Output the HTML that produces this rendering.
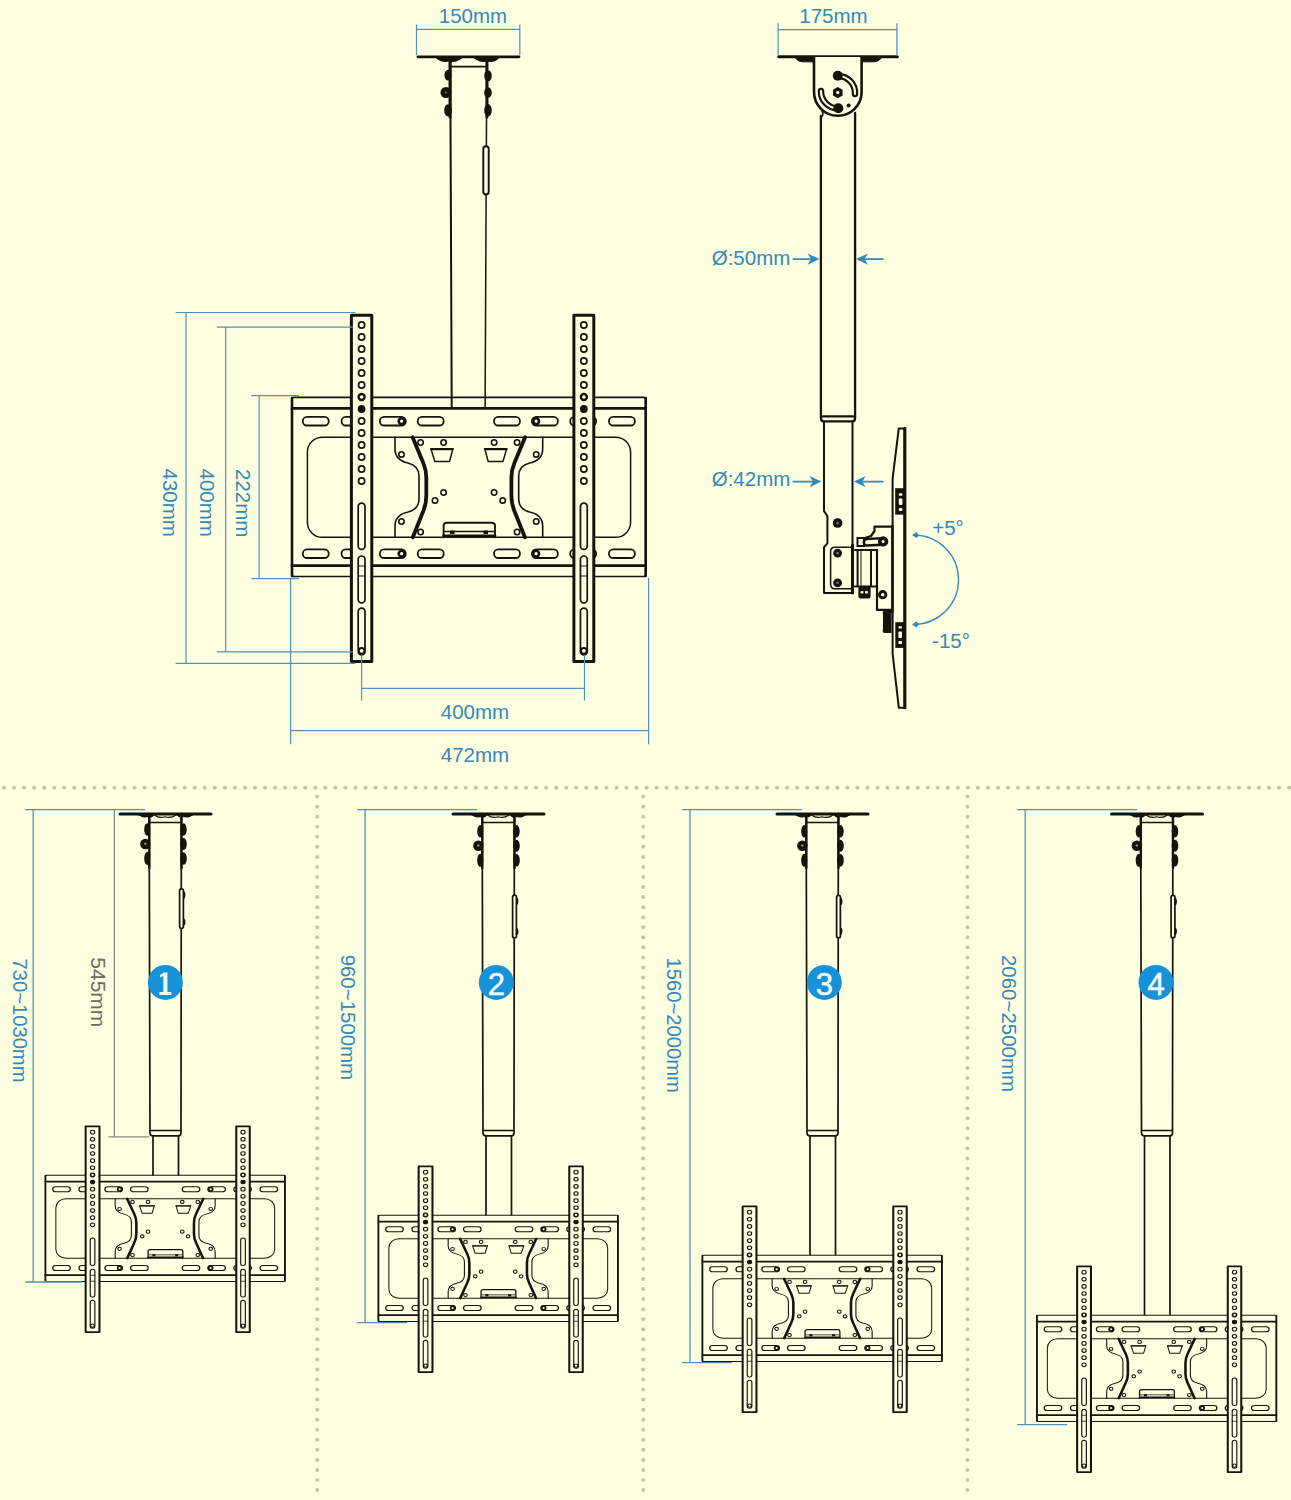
<!DOCTYPE html><html><head><meta charset="utf-8"><style>html,body{margin:0;padding:0;background:#FEFEE1;}svg{display:block;}text{font-family:"Liberation Sans",sans-serif;}</style></head><body>
<svg width="1291" height="1500" viewBox="0 0 1291 1500">
<rect width="1291" height="1500" fill="#FEFEE1"/>
<defs><g id="br" fill="none" stroke="#14140c" stroke-linecap="round" stroke-linejoin="round">
<path d="M294,397.4 H643.7 Q645.7,397.4 645.7,399.4 V574.5 Q645.7,576.5 643.7,576.5 H294 Q292,576.5 292,574.5 V399.4 Q292,397.4 294,397.4 Z" stroke-width="1.7"/>
<path d="M292,398 V576 M645.7,398 V576" stroke-width="2.6"/>
<path d="M292,408.3 H645.7 M292,565.7 H645.7" stroke-width="2.8"/>
<rect x="302.75" y="416.9" width="26" height="8.6" rx="4.3" stroke-width="1.8"/>
<rect x="341.5" y="416.9" width="26" height="8.6" rx="4.3" stroke-width="1.8"/>
<rect x="379.8" y="416.9" width="26" height="8.6" rx="4.3" stroke-width="1.8"/>
<rect x="417.7" y="416.9" width="26" height="8.6" rx="4.3" stroke-width="1.8"/>
<rect x="494" y="416.9" width="26" height="8.6" rx="4.3" stroke-width="1.8"/>
<rect x="531.9" y="416.9" width="26" height="8.6" rx="4.3" stroke-width="1.8"/>
<rect x="570.2" y="416.9" width="26" height="8.6" rx="4.3" stroke-width="1.8"/>
<rect x="608.95" y="416.9" width="26" height="8.6" rx="4.3" stroke-width="1.8"/>
<rect x="302.75" y="549.4" width="26" height="8.6" rx="4.3" stroke-width="1.8"/>
<rect x="341.5" y="549.4" width="26" height="8.6" rx="4.3" stroke-width="1.8"/>
<rect x="379.8" y="549.4" width="26" height="8.6" rx="4.3" stroke-width="1.8"/>
<rect x="417.7" y="549.4" width="26" height="8.6" rx="4.3" stroke-width="1.8"/>
<rect x="494" y="549.4" width="26" height="8.6" rx="4.3" stroke-width="1.8"/>
<rect x="531.9" y="549.4" width="26" height="8.6" rx="4.3" stroke-width="1.8"/>
<rect x="570.2" y="549.4" width="26" height="8.6" rx="4.3" stroke-width="1.8"/>
<rect x="608.95" y="549.4" width="26" height="8.6" rx="4.3" stroke-width="1.8"/>
<circle cx="401.6" cy="421.2" r="2.9" stroke-width="2.6"/>
<circle cx="536.1" cy="421.2" r="2.9" stroke-width="2.6"/>
<circle cx="401.6" cy="553.7" r="2.9" stroke-width="2.6"/>
<circle cx="536.1" cy="553.7" r="2.9" stroke-width="2.6"/>
<rect x="307.4" y="437.2" width="323.2" height="100.1" rx="15" stroke-width="1.5"/>
<path d="M395,437.2 V449 C395,457 399,461 408,463 C416,465 419,469 419,476 V499 C419,506 416,510 408,512 C399,514 395,518 395,526 V537.3" stroke-width="1.6"/>
<path d="M412.6,437.2 L423.3,463 Q426.3,470 426.3,478 V496 Q426.3,504 423.3,511 L412.8,537.3" stroke-width="3.8"/>
<g transform="translate(937.7,0) scale(-1,1)"><path d="M395,437.2 V449 C395,457 399,461 408,463 C416,465 419,469 419,476 V499 C419,506 416,510 408,512 C399,514 395,518 395,526 V537.3" stroke-width="1.6"/><path d="M412.6,437.2 L423.3,463 Q426.3,470 426.3,478 V496 Q426.3,504 423.3,511 L412.8,537.3" stroke-width="3.8"/></g>
<circle cx="420.6" cy="442.5" r="2.7" stroke-width="1.6"/>
<circle cx="517.1" cy="442.5" r="2.7" stroke-width="1.6"/>
<circle cx="443.6" cy="442.5" r="2.7" stroke-width="1.6"/>
<circle cx="494.1" cy="442.5" r="2.7" stroke-width="1.6"/>
<circle cx="401.5" cy="454.4" r="2.7" stroke-width="1.6"/>
<circle cx="536.2" cy="454.4" r="2.7" stroke-width="1.6"/>
<circle cx="401.5" cy="521.5" r="2.7" stroke-width="1.6"/>
<circle cx="536.2" cy="521.5" r="2.7" stroke-width="1.6"/>
<circle cx="420.6" cy="532" r="2.7" stroke-width="1.6"/>
<circle cx="517.1" cy="532" r="2.7" stroke-width="1.6"/>
<circle cx="443.6" cy="492.5" r="2.7" stroke-width="1.6"/>
<circle cx="494.1" cy="492.5" r="2.7" stroke-width="1.6"/>
<circle cx="435" cy="500.4" r="2.7" stroke-width="1.6"/>
<circle cx="502.7" cy="500.4" r="2.7" stroke-width="1.6"/>
<path d="M431.1,449.1 L452.8,449.1 L449.5,461.6 L434.8,461.6 Z" stroke-width="1.5"/>
<path d="M431.1,449.1 H452.8" stroke-width="2.2"/>
<path d="M506.6,449.1 L484.9,449.1 L488.2,461.6 L502.9,461.6 Z" stroke-width="1.5"/>
<path d="M506.6,449.1 H484.9" stroke-width="2.2"/>
<path d="M443.6,537.3 V526 Q443.6,522.8 447,522.8 H491.6 Q495,522.8 495,526 V537.3" stroke-width="1.9"/>
<path d="M444.5,531.6 H494" stroke-width="1.5"/>
<path d="M443.6,535.8 H495" stroke-width="2.6"/>
<rect x="450" y="530.5" width="4.5" height="3.5" fill="#14140c" stroke="none"/><rect x="483.5" y="530.5" width="4.5" height="3.5" fill="#14140c" stroke="none"/>
<rect x="351.4" y="315.3" width="20.4" height="346.3" fill="#FEFEE1" stroke-width="3"/>
<circle cx="361.6" cy="325" r="3.1" stroke-width="1.7"/>
<circle cx="361.6" cy="337" r="3.1" stroke-width="1.7"/>
<circle cx="361.6" cy="349" r="3.1" stroke-width="1.7"/>
<circle cx="361.6" cy="361" r="3.1" stroke-width="1.7"/>
<circle cx="361.6" cy="373" r="3.1" stroke-width="1.7"/>
<circle cx="361.6" cy="385" r="3.1" stroke-width="1.7"/>
<circle cx="361.6" cy="397" r="3" stroke-width="2.4"/>
<circle cx="361.6" cy="409" r="3" fill="#14140c" stroke-width="1.8"/>
<circle cx="361.6" cy="421" r="3.1" stroke-width="1.7"/>
<circle cx="361.6" cy="433" r="3.1" stroke-width="1.7"/>
<circle cx="361.6" cy="445" r="3.1" stroke-width="1.7"/>
<circle cx="361.6" cy="457" r="3.1" stroke-width="1.7"/>
<circle cx="361.6" cy="469" r="3.1" stroke-width="1.7"/>
<circle cx="361.6" cy="481" r="3.1" stroke-width="1.7"/>
<rect x="358.2" y="503.2" width="6.8" height="46.2" rx="3.4" stroke-width="1.7"/>
<rect x="358.2" y="556" width="6.8" height="46.8" rx="3.4" stroke-width="1.7"/>
<rect x="358.2" y="608.2" width="6.8" height="46.8" rx="3.4" stroke-width="1.7"/>
<path d="M358.2,566 H365 M358.2,576 H365" stroke-width="1.2"/>
<circle cx="361.6" cy="650.8" r="2.8" stroke-width="1.8"/>
<rect x="573.9" y="315.3" width="19.9" height="346.3" fill="#FEFEE1" stroke-width="3"/>
<circle cx="583.85" cy="325" r="3.1" stroke-width="1.7"/>
<circle cx="583.85" cy="337" r="3.1" stroke-width="1.7"/>
<circle cx="583.85" cy="349" r="3.1" stroke-width="1.7"/>
<circle cx="583.85" cy="361" r="3.1" stroke-width="1.7"/>
<circle cx="583.85" cy="373" r="3.1" stroke-width="1.7"/>
<circle cx="583.85" cy="385" r="3.1" stroke-width="1.7"/>
<circle cx="583.85" cy="397" r="3" stroke-width="2.4"/>
<circle cx="583.85" cy="409" r="3" fill="#14140c" stroke-width="1.8"/>
<circle cx="583.85" cy="421" r="3.1" stroke-width="1.7"/>
<circle cx="583.85" cy="433" r="3.1" stroke-width="1.7"/>
<circle cx="583.85" cy="445" r="3.1" stroke-width="1.7"/>
<circle cx="583.85" cy="457" r="3.1" stroke-width="1.7"/>
<circle cx="583.85" cy="469" r="3.1" stroke-width="1.7"/>
<circle cx="583.85" cy="481" r="3.1" stroke-width="1.7"/>
<rect x="580.45" y="503.2" width="6.8" height="46.2" rx="3.4" stroke-width="1.7"/>
<rect x="580.45" y="556" width="6.8" height="46.8" rx="3.4" stroke-width="1.7"/>
<rect x="580.45" y="608.2" width="6.8" height="46.8" rx="3.4" stroke-width="1.7"/>
<path d="M580.45,566 H587.25 M580.45,576 H587.25" stroke-width="1.2"/>
<circle cx="583.85" cy="650.8" r="2.8" stroke-width="1.8"/>
</g></defs>
<g fill="none" stroke="#14140c" stroke-linecap="round">
<path d="M418,56.8 H519" stroke-width="2.8"/>
<path d="M436,57.5 Q442.5,63 449,60.8 Q455.5,63 462,57.5 Z M474,57.5 Q480.5,63 487,60.8 Q493.5,63 499,57.5 Z" stroke-width="1.2" fill="#14140c"/>
<path d="M450.5,57 V120 L451.7,407" stroke-width="2"/>
<path d="M486.5,57 V120 L485.1,407" stroke-width="1.5"/>
<path d="M450,60 V117 M487,60 V117" stroke-width="3"/>
<path d="M452,66.7 H485.7" stroke-width="1.8"/>
<g fill="#14140c" stroke="none">
<ellipse cx="448" cy="75.2" rx="3.6" ry="5.4"/><circle cx="446" cy="92.5" r="5.5"/><ellipse cx="448" cy="110.4" rx="3.8" ry="6.2"/>
<ellipse cx="488" cy="75.8" rx="3.8" ry="5.6"/><ellipse cx="488" cy="92.5" rx="3.8" ry="5.3"/><ellipse cx="488" cy="110.3" rx="3.8" ry="6.2"/>
</g>
<circle cx="446" cy="92.5" r="0.9" fill="#777" stroke="none"/>
<rect x="483.3" y="146.3" width="5.4" height="48.2" rx="2.7" fill="#FEFEE1" stroke-width="1.9"/>
</g>
<use href="#br"/>
<g stroke="#4F93BC" stroke-width="1.2" fill="none">
<path d="M416.5,24.4 V55.3 M519.8,24.4 V55.3 M416.5,29.3 H519.8"/>
<path d="M175.7,312.5 H355.4 M175.7,663.4 H355.4 M186,312.5 V663.4"/>
<path d="M216.8,327.1 H352.8 M216.8,651.9 H352.8 M225.7,327.1 V651.9"/>
<path d="M251.4,395.6 H299 M251.4,578.7 H299 M259.1,395.6 V578.7"/>
<path d="M361.6,655 V700.4 M584.5,655 V700.4 M361.6,688.3 H584.5"/>
<path d="M290.6,578 V744.2 M648.6,578 V744.2 M290.6,730.6 H648.6"/>
</g>
<g fill="#3589BA" font-size="20.5">
<text x="473" y="23.3" text-anchor="middle">150mm</text>
<text x="475" y="719.2" text-anchor="middle">400mm</text>
<text x="475" y="762.4" text-anchor="middle">472mm</text>
<text transform="translate(163,502.7) rotate(90)" text-anchor="middle">430mm</text>
<text transform="translate(200.1,502.7) rotate(90)" text-anchor="middle">400mm</text>
<text transform="translate(236.3,503.2) rotate(90)" text-anchor="middle">222mm</text>
<text x="833.5" y="23.2" text-anchor="middle">175mm</text>
<text x="751" y="265" text-anchor="middle">Ø:50mm</text>
<text x="751" y="485.7" text-anchor="middle">Ø:42mm</text>
<text x="948" y="534.5" text-anchor="middle">+5°</text>
<text x="951" y="648.4" text-anchor="middle">-15°</text>
</g>
<g fill="none" stroke="#14140c" stroke-linecap="round" stroke-linejoin="round">
<path d="M778.7,56.8 H897.4" stroke-width="3"/>
<path d="M795,57.5 Q798,62 802.5,61.8 H814 V57.5 Z M881.7,57.5 Q878.7,62 874.2,61.8 H862 V57.5 Z" stroke-width="1" fill="#14140c"/>
<path d="M814,57 V92 A23.8,23.8 0 0 0 861.6,92 V57" stroke-width="2.6" fill="#FEFEE1"/>
<path d="M820.9,116 V418 Q820.9,421.4 824,421.4 H852.3 Q855.1,421.4 855.1,418 V113" stroke-width="2.3"/>
<path d="M822,111 Q824,114 821.5,117" stroke-width="1.6"/>
<path d="M821.5,416.3 H854.5" stroke-width="2.2"/>
<path d="M838,76 A17,17 0 0 1 855,94" stroke-width="6.5"/>
<path d="M838,76 A17,17 0 0 1 855,94" stroke-width="2.2" stroke="#FEFEE1"/>
<path d="M821,91 A17,17 0 0 0 838,108.5" stroke-width="6.5"/>
<path d="M821,91 A17,17 0 0 0 838,108.5" stroke-width="2.2" stroke="#FEFEE1"/>
</g>
<g fill="#14140c">
<circle cx="837.8" cy="75.8" r="5"/><circle cx="838.3" cy="108.3" r="5"/><circle cx="848.6" cy="105.6" r="2"/>
<polygon points="837.8,87 842.6,89.8 842.6,95.4 837.8,98.2 833,95.4 833,89.8"/><circle cx="837.8" cy="92.6" r="1.6" fill="#FEFEE1"/>
</g>
<g fill="none" stroke="#14140c" stroke-linecap="round" stroke-linejoin="round">
<path d="M824,421.4 V511.1 L827.4,516 V543.3 L824,547.2 V593 H852.5 V421.4" stroke-width="2"/>
<path d="M852.5,545 V593" stroke-width="3"/>
<path d="M852.5,588.8 H835 Q830.6,588.8 830.6,584 V551.5 Q830.6,547.2 835,547.2 H852.5" stroke-width="1.5"/>
</g>
<g fill="#14140c"><circle cx="837.6" cy="523" r="4.8"/><circle cx="837.6" cy="553.1" r="4.4"/><circle cx="837.6" cy="582.9" r="4.4"/></g>
<g fill="#666"><circle cx="837.6" cy="523" r="1.5"/><circle cx="837.6" cy="553.1" r="1.4"/><circle cx="837.6" cy="582.9" r="1.4"/></g>
<g fill="none" stroke="#14140c" stroke-linecap="round" stroke-linejoin="round">
<path d="M904.8,428.4 V707.7" stroke-width="3.2"/>
<path d="M904.8,428.4 H898.8 L892.6,478.6 V653.7 L898.8,707.7 H904.8" stroke-width="2"/>
<path d="M892.4,526 V612" stroke-width="2.6"/>
</g>
<g fill="#14140c">
<rect x="895.2" y="488.2" width="9.2" height="26.4"/><rect x="895.3" y="622.2" width="8.9" height="25.7"/>
</g>
<g fill="#FEFEE1">
<rect x="898.8" y="493.3" width="3.6" height="2.4" rx="1"/><rect x="898.8" y="498.4" width="3.6" height="6.6" rx="1"/><rect x="898.8" y="508" width="3.6" height="3" rx="1"/>
<rect x="898.4" y="626.2" width="3.6" height="2.4" rx="1"/><rect x="898.4" y="631.4" width="3.6" height="6.6" rx="1"/><rect x="898.4" y="641" width="3.6" height="3" rx="1"/>
</g>
<g fill="none" stroke="#14140c" stroke-linecap="round" stroke-linejoin="round">
<path d="M892,526.7 H874.5 V531 L871,536 L862,539" stroke-width="2.2"/>
<path d="M877,550.1 V609.9 H892" stroke-width="2.2"/>
<path d="M855,550.1 H877 M857.6,550.1 V586.5 M871,550.1 V586.5 M855,586.5 H877" stroke-width="2"/>
<path d="M861,551 V586" stroke-width="1"/>
</g>
<rect x="857.5" y="538" width="6.5" height="8" fill="#FEFEE1" stroke="#14140c" stroke-width="2"/>
<path d="M867.1,542.3 L883.1,541.4" stroke="#14140c" stroke-width="9" stroke-linecap="round" fill="none"/>
<path d="M867.1,542.3 L880,541.6" stroke="#FEFEE1" stroke-width="4" stroke-linecap="round" fill="none"/>
<g fill="#14140c"><circle cx="883.1" cy="541.4" r="5.2"/><rect x="858.4" y="586" width="12.2" height="12.6" rx="2.5"/><circle cx="882.7" cy="594.7" r="4.6"/><path d="M884.2,610.7 H891.5 V633 H884.2 Q882,632 883,629 V614 Q882,611 884.2,610.7 Z"/></g>
<g fill="#FEFEE1"><circle cx="883.1" cy="541.4" r="1.5"/><circle cx="882.7" cy="594.7" r="1.8"/><rect x="860.5" y="591" width="3" height="2.5" rx="1"/><rect x="865" y="591" width="3" height="2.5" rx="1"/></g>
<g stroke="#4F93BC" stroke-width="1.2" fill="none">
<path d="M778.1,23.2 V56 M896.9,23.2 V56 M778.1,29.7 H896.9"/>
</g>
<g stroke="#3589BA" stroke-width="1.6" fill="none" stroke-linecap="round">
<path d="M793.4,259.1 H812 M863,259.1 H882.9 M793.4,481.6 H814 M861,481.6 H882.9" stroke-width="1.9"/>
<path d="M914,535.2 A44.5,44.5 0 0 1 914,624.3" stroke-width="1.3"/>
</g>
<g fill="#3589BA">
<path d="M819.5,259.1 L807.5,253.50000000000003 L811.0,259.1 L807.5,264.70000000000005 Z M856,259.1 L868,253.50000000000003 L864.5,259.1 L868,264.70000000000005 Z"/>
<path d="M821.5,481.6 L809.5,476.0 L813.0,481.6 L809.5,487.20000000000005 Z M853.8,481.6 L865.8,476.0 L862.3,481.6 L865.8,487.20000000000005 Z"/>
<path d="M912,535 L916.5,532 L919,535.5 L916.5,538 Z M912,624.5 L916.5,621.5 L919,624 L916.5,627.5 Z"/>
</g>
<g fill="#C5C4A4"><circle cx="4" cy="787.7" r="2"/><circle cx="14.04" cy="787.7" r="2"/><circle cx="24.08" cy="787.7" r="2"/><circle cx="34.12" cy="787.7" r="2"/><circle cx="44.16" cy="787.7" r="2"/><circle cx="54.2" cy="787.7" r="2"/><circle cx="64.24" cy="787.7" r="2"/><circle cx="74.28" cy="787.7" r="2"/><circle cx="84.32" cy="787.7" r="2"/><circle cx="94.36" cy="787.7" r="2"/><circle cx="104.4" cy="787.7" r="2"/><circle cx="114.44" cy="787.7" r="2"/><circle cx="124.48" cy="787.7" r="2"/><circle cx="134.52" cy="787.7" r="2"/><circle cx="144.56" cy="787.7" r="2"/><circle cx="154.6" cy="787.7" r="2"/><circle cx="164.64" cy="787.7" r="2"/><circle cx="174.68" cy="787.7" r="2"/><circle cx="184.72" cy="787.7" r="2"/><circle cx="194.76" cy="787.7" r="2"/><circle cx="204.8" cy="787.7" r="2"/><circle cx="214.84" cy="787.7" r="2"/><circle cx="224.88" cy="787.7" r="2"/><circle cx="234.92" cy="787.7" r="2"/><circle cx="244.96" cy="787.7" r="2"/><circle cx="255" cy="787.7" r="2"/><circle cx="265.04" cy="787.7" r="2"/><circle cx="275.08" cy="787.7" r="2"/><circle cx="285.12" cy="787.7" r="2"/><circle cx="295.16" cy="787.7" r="2"/><circle cx="305.2" cy="787.7" r="2"/><circle cx="315.24" cy="787.7" r="2"/><circle cx="325.28" cy="787.7" r="2"/><circle cx="335.32" cy="787.7" r="2"/><circle cx="345.36" cy="787.7" r="2"/><circle cx="355.4" cy="787.7" r="2"/><circle cx="365.44" cy="787.7" r="2"/><circle cx="375.48" cy="787.7" r="2"/><circle cx="385.52" cy="787.7" r="2"/><circle cx="395.56" cy="787.7" r="2"/><circle cx="405.6" cy="787.7" r="2"/><circle cx="415.64" cy="787.7" r="2"/><circle cx="425.68" cy="787.7" r="2"/><circle cx="435.72" cy="787.7" r="2"/><circle cx="445.76" cy="787.7" r="2"/><circle cx="455.8" cy="787.7" r="2"/><circle cx="465.84" cy="787.7" r="2"/><circle cx="475.88" cy="787.7" r="2"/><circle cx="485.92" cy="787.7" r="2"/><circle cx="495.96" cy="787.7" r="2"/><circle cx="506" cy="787.7" r="2"/><circle cx="516.04" cy="787.7" r="2"/><circle cx="526.08" cy="787.7" r="2"/><circle cx="536.12" cy="787.7" r="2"/><circle cx="546.16" cy="787.7" r="2"/><circle cx="556.2" cy="787.7" r="2"/><circle cx="566.24" cy="787.7" r="2"/><circle cx="576.28" cy="787.7" r="2"/><circle cx="586.32" cy="787.7" r="2"/><circle cx="596.36" cy="787.7" r="2"/><circle cx="606.4" cy="787.7" r="2"/><circle cx="616.44" cy="787.7" r="2"/><circle cx="626.48" cy="787.7" r="2"/><circle cx="636.52" cy="787.7" r="2"/><circle cx="646.56" cy="787.7" r="2"/><circle cx="656.6" cy="787.7" r="2"/><circle cx="666.64" cy="787.7" r="2"/><circle cx="676.68" cy="787.7" r="2"/><circle cx="686.72" cy="787.7" r="2"/><circle cx="696.76" cy="787.7" r="2"/><circle cx="706.8" cy="787.7" r="2"/><circle cx="716.84" cy="787.7" r="2"/><circle cx="726.88" cy="787.7" r="2"/><circle cx="736.92" cy="787.7" r="2"/><circle cx="746.96" cy="787.7" r="2"/><circle cx="757" cy="787.7" r="2"/><circle cx="767.04" cy="787.7" r="2"/><circle cx="777.08" cy="787.7" r="2"/><circle cx="787.12" cy="787.7" r="2"/><circle cx="797.16" cy="787.7" r="2"/><circle cx="807.2" cy="787.7" r="2"/><circle cx="817.24" cy="787.7" r="2"/><circle cx="827.28" cy="787.7" r="2"/><circle cx="837.32" cy="787.7" r="2"/><circle cx="847.36" cy="787.7" r="2"/><circle cx="857.4" cy="787.7" r="2"/><circle cx="867.44" cy="787.7" r="2"/><circle cx="877.48" cy="787.7" r="2"/><circle cx="887.52" cy="787.7" r="2"/><circle cx="897.56" cy="787.7" r="2"/><circle cx="907.6" cy="787.7" r="2"/><circle cx="917.64" cy="787.7" r="2"/><circle cx="927.68" cy="787.7" r="2"/><circle cx="937.72" cy="787.7" r="2"/><circle cx="947.76" cy="787.7" r="2"/><circle cx="957.8" cy="787.7" r="2"/><circle cx="967.84" cy="787.7" r="2"/><circle cx="977.88" cy="787.7" r="2"/><circle cx="987.92" cy="787.7" r="2"/><circle cx="997.96" cy="787.7" r="2"/><circle cx="1008" cy="787.7" r="2"/><circle cx="1018.04" cy="787.7" r="2"/><circle cx="1028.08" cy="787.7" r="2"/><circle cx="1038.12" cy="787.7" r="2"/><circle cx="1048.16" cy="787.7" r="2"/><circle cx="1058.2" cy="787.7" r="2"/><circle cx="1068.24" cy="787.7" r="2"/><circle cx="1078.28" cy="787.7" r="2"/><circle cx="1088.32" cy="787.7" r="2"/><circle cx="1098.36" cy="787.7" r="2"/><circle cx="1108.4" cy="787.7" r="2"/><circle cx="1118.44" cy="787.7" r="2"/><circle cx="1128.48" cy="787.7" r="2"/><circle cx="1138.52" cy="787.7" r="2"/><circle cx="1148.56" cy="787.7" r="2"/><circle cx="1158.6" cy="787.7" r="2"/><circle cx="1168.64" cy="787.7" r="2"/><circle cx="1178.68" cy="787.7" r="2"/><circle cx="1188.72" cy="787.7" r="2"/><circle cx="1198.76" cy="787.7" r="2"/><circle cx="1208.8" cy="787.7" r="2"/><circle cx="1218.84" cy="787.7" r="2"/><circle cx="1228.88" cy="787.7" r="2"/><circle cx="1238.92" cy="787.7" r="2"/><circle cx="1248.96" cy="787.7" r="2"/><circle cx="1259" cy="787.7" r="2"/><circle cx="1269.04" cy="787.7" r="2"/><circle cx="1279.08" cy="787.7" r="2"/><circle cx="1289.12" cy="787.7" r="2"/><circle cx="317.2" cy="796.6" r="2"/><circle cx="317.2" cy="806.65" r="2"/><circle cx="317.2" cy="816.7" r="2"/><circle cx="317.2" cy="826.75" r="2"/><circle cx="317.2" cy="836.8" r="2"/><circle cx="317.2" cy="846.85" r="2"/><circle cx="317.2" cy="856.9" r="2"/><circle cx="317.2" cy="866.95" r="2"/><circle cx="317.2" cy="877" r="2"/><circle cx="317.2" cy="887.05" r="2"/><circle cx="317.2" cy="897.1" r="2"/><circle cx="317.2" cy="907.15" r="2"/><circle cx="317.2" cy="917.2" r="2"/><circle cx="317.2" cy="927.25" r="2"/><circle cx="317.2" cy="937.3" r="2"/><circle cx="317.2" cy="947.35" r="2"/><circle cx="317.2" cy="957.4" r="2"/><circle cx="317.2" cy="967.45" r="2"/><circle cx="317.2" cy="977.5" r="2"/><circle cx="317.2" cy="987.55" r="2"/><circle cx="317.2" cy="997.6" r="2"/><circle cx="317.2" cy="1007.65" r="2"/><circle cx="317.2" cy="1017.7" r="2"/><circle cx="317.2" cy="1027.75" r="2"/><circle cx="317.2" cy="1037.8" r="2"/><circle cx="317.2" cy="1047.85" r="2"/><circle cx="317.2" cy="1057.9" r="2"/><circle cx="317.2" cy="1067.95" r="2"/><circle cx="317.2" cy="1078" r="2"/><circle cx="317.2" cy="1088.05" r="2"/><circle cx="317.2" cy="1098.1" r="2"/><circle cx="317.2" cy="1108.15" r="2"/><circle cx="317.2" cy="1118.2" r="2"/><circle cx="317.2" cy="1128.25" r="2"/><circle cx="317.2" cy="1138.3" r="2"/><circle cx="317.2" cy="1148.35" r="2"/><circle cx="317.2" cy="1158.4" r="2"/><circle cx="317.2" cy="1168.45" r="2"/><circle cx="317.2" cy="1178.5" r="2"/><circle cx="317.2" cy="1188.55" r="2"/><circle cx="317.2" cy="1198.6" r="2"/><circle cx="317.2" cy="1208.65" r="2"/><circle cx="317.2" cy="1218.7" r="2"/><circle cx="317.2" cy="1228.75" r="2"/><circle cx="317.2" cy="1238.8" r="2"/><circle cx="317.2" cy="1248.85" r="2"/><circle cx="317.2" cy="1258.9" r="2"/><circle cx="317.2" cy="1268.95" r="2"/><circle cx="317.2" cy="1279" r="2"/><circle cx="317.2" cy="1289.05" r="2"/><circle cx="317.2" cy="1299.1" r="2"/><circle cx="317.2" cy="1309.15" r="2"/><circle cx="317.2" cy="1319.2" r="2"/><circle cx="317.2" cy="1329.25" r="2"/><circle cx="317.2" cy="1339.3" r="2"/><circle cx="317.2" cy="1349.35" r="2"/><circle cx="317.2" cy="1359.4" r="2"/><circle cx="317.2" cy="1369.45" r="2"/><circle cx="317.2" cy="1379.5" r="2"/><circle cx="317.2" cy="1389.55" r="2"/><circle cx="317.2" cy="1399.6" r="2"/><circle cx="317.2" cy="1409.65" r="2"/><circle cx="317.2" cy="1419.7" r="2"/><circle cx="317.2" cy="1429.75" r="2"/><circle cx="317.2" cy="1439.8" r="2"/><circle cx="317.2" cy="1449.85" r="2"/><circle cx="317.2" cy="1459.9" r="2"/><circle cx="317.2" cy="1469.95" r="2"/><circle cx="317.2" cy="1480" r="2"/><circle cx="317.2" cy="1490.05" r="2"/><circle cx="643.2" cy="796.6" r="2"/><circle cx="643.2" cy="806.65" r="2"/><circle cx="643.2" cy="816.7" r="2"/><circle cx="643.2" cy="826.75" r="2"/><circle cx="643.2" cy="836.8" r="2"/><circle cx="643.2" cy="846.85" r="2"/><circle cx="643.2" cy="856.9" r="2"/><circle cx="643.2" cy="866.95" r="2"/><circle cx="643.2" cy="877" r="2"/><circle cx="643.2" cy="887.05" r="2"/><circle cx="643.2" cy="897.1" r="2"/><circle cx="643.2" cy="907.15" r="2"/><circle cx="643.2" cy="917.2" r="2"/><circle cx="643.2" cy="927.25" r="2"/><circle cx="643.2" cy="937.3" r="2"/><circle cx="643.2" cy="947.35" r="2"/><circle cx="643.2" cy="957.4" r="2"/><circle cx="643.2" cy="967.45" r="2"/><circle cx="643.2" cy="977.5" r="2"/><circle cx="643.2" cy="987.55" r="2"/><circle cx="643.2" cy="997.6" r="2"/><circle cx="643.2" cy="1007.65" r="2"/><circle cx="643.2" cy="1017.7" r="2"/><circle cx="643.2" cy="1027.75" r="2"/><circle cx="643.2" cy="1037.8" r="2"/><circle cx="643.2" cy="1047.85" r="2"/><circle cx="643.2" cy="1057.9" r="2"/><circle cx="643.2" cy="1067.95" r="2"/><circle cx="643.2" cy="1078" r="2"/><circle cx="643.2" cy="1088.05" r="2"/><circle cx="643.2" cy="1098.1" r="2"/><circle cx="643.2" cy="1108.15" r="2"/><circle cx="643.2" cy="1118.2" r="2"/><circle cx="643.2" cy="1128.25" r="2"/><circle cx="643.2" cy="1138.3" r="2"/><circle cx="643.2" cy="1148.35" r="2"/><circle cx="643.2" cy="1158.4" r="2"/><circle cx="643.2" cy="1168.45" r="2"/><circle cx="643.2" cy="1178.5" r="2"/><circle cx="643.2" cy="1188.55" r="2"/><circle cx="643.2" cy="1198.6" r="2"/><circle cx="643.2" cy="1208.65" r="2"/><circle cx="643.2" cy="1218.7" r="2"/><circle cx="643.2" cy="1228.75" r="2"/><circle cx="643.2" cy="1238.8" r="2"/><circle cx="643.2" cy="1248.85" r="2"/><circle cx="643.2" cy="1258.9" r="2"/><circle cx="643.2" cy="1268.95" r="2"/><circle cx="643.2" cy="1279" r="2"/><circle cx="643.2" cy="1289.05" r="2"/><circle cx="643.2" cy="1299.1" r="2"/><circle cx="643.2" cy="1309.15" r="2"/><circle cx="643.2" cy="1319.2" r="2"/><circle cx="643.2" cy="1329.25" r="2"/><circle cx="643.2" cy="1339.3" r="2"/><circle cx="643.2" cy="1349.35" r="2"/><circle cx="643.2" cy="1359.4" r="2"/><circle cx="643.2" cy="1369.45" r="2"/><circle cx="643.2" cy="1379.5" r="2"/><circle cx="643.2" cy="1389.55" r="2"/><circle cx="643.2" cy="1399.6" r="2"/><circle cx="643.2" cy="1409.65" r="2"/><circle cx="643.2" cy="1419.7" r="2"/><circle cx="643.2" cy="1429.75" r="2"/><circle cx="643.2" cy="1439.8" r="2"/><circle cx="643.2" cy="1449.85" r="2"/><circle cx="643.2" cy="1459.9" r="2"/><circle cx="643.2" cy="1469.95" r="2"/><circle cx="643.2" cy="1480" r="2"/><circle cx="643.2" cy="1490.05" r="2"/><circle cx="967.5" cy="796.6" r="2"/><circle cx="967.5" cy="806.65" r="2"/><circle cx="967.5" cy="816.7" r="2"/><circle cx="967.5" cy="826.75" r="2"/><circle cx="967.5" cy="836.8" r="2"/><circle cx="967.5" cy="846.85" r="2"/><circle cx="967.5" cy="856.9" r="2"/><circle cx="967.5" cy="866.95" r="2"/><circle cx="967.5" cy="877" r="2"/><circle cx="967.5" cy="887.05" r="2"/><circle cx="967.5" cy="897.1" r="2"/><circle cx="967.5" cy="907.15" r="2"/><circle cx="967.5" cy="917.2" r="2"/><circle cx="967.5" cy="927.25" r="2"/><circle cx="967.5" cy="937.3" r="2"/><circle cx="967.5" cy="947.35" r="2"/><circle cx="967.5" cy="957.4" r="2"/><circle cx="967.5" cy="967.45" r="2"/><circle cx="967.5" cy="977.5" r="2"/><circle cx="967.5" cy="987.55" r="2"/><circle cx="967.5" cy="997.6" r="2"/><circle cx="967.5" cy="1007.65" r="2"/><circle cx="967.5" cy="1017.7" r="2"/><circle cx="967.5" cy="1027.75" r="2"/><circle cx="967.5" cy="1037.8" r="2"/><circle cx="967.5" cy="1047.85" r="2"/><circle cx="967.5" cy="1057.9" r="2"/><circle cx="967.5" cy="1067.95" r="2"/><circle cx="967.5" cy="1078" r="2"/><circle cx="967.5" cy="1088.05" r="2"/><circle cx="967.5" cy="1098.1" r="2"/><circle cx="967.5" cy="1108.15" r="2"/><circle cx="967.5" cy="1118.2" r="2"/><circle cx="967.5" cy="1128.25" r="2"/><circle cx="967.5" cy="1138.3" r="2"/><circle cx="967.5" cy="1148.35" r="2"/><circle cx="967.5" cy="1158.4" r="2"/><circle cx="967.5" cy="1168.45" r="2"/><circle cx="967.5" cy="1178.5" r="2"/><circle cx="967.5" cy="1188.55" r="2"/><circle cx="967.5" cy="1198.6" r="2"/><circle cx="967.5" cy="1208.65" r="2"/><circle cx="967.5" cy="1218.7" r="2"/><circle cx="967.5" cy="1228.75" r="2"/><circle cx="967.5" cy="1238.8" r="2"/><circle cx="967.5" cy="1248.85" r="2"/><circle cx="967.5" cy="1258.9" r="2"/><circle cx="967.5" cy="1268.95" r="2"/><circle cx="967.5" cy="1279" r="2"/><circle cx="967.5" cy="1289.05" r="2"/><circle cx="967.5" cy="1299.1" r="2"/><circle cx="967.5" cy="1309.15" r="2"/><circle cx="967.5" cy="1319.2" r="2"/><circle cx="967.5" cy="1329.25" r="2"/><circle cx="967.5" cy="1339.3" r="2"/><circle cx="967.5" cy="1349.35" r="2"/><circle cx="967.5" cy="1359.4" r="2"/><circle cx="967.5" cy="1369.45" r="2"/><circle cx="967.5" cy="1379.5" r="2"/><circle cx="967.5" cy="1389.55" r="2"/><circle cx="967.5" cy="1399.6" r="2"/><circle cx="967.5" cy="1409.65" r="2"/><circle cx="967.5" cy="1419.7" r="2"/><circle cx="967.5" cy="1429.75" r="2"/><circle cx="967.5" cy="1439.8" r="2"/><circle cx="967.5" cy="1449.85" r="2"/><circle cx="967.5" cy="1459.9" r="2"/><circle cx="967.5" cy="1469.95" r="2"/><circle cx="967.5" cy="1480" r="2"/><circle cx="967.5" cy="1490.05" r="2"/></g>
<g transform="translate(0,0)">
<g fill="none" stroke="#14140c" stroke-linecap="round" stroke-linejoin="round">
<path d="M120,813.9 H211" stroke-width="3"/>
<path d="M137.8,814.5 Q143,818.3 148.5,816.8 Q152,818.3 154.6,814.5 Z M176.2,814.5 Q179,818.3 183.5,816.8 Q189,818.3 193.8,814.5 Z" stroke-width="0.8" fill="#14140c"/>
<path d="M154.6,815 Q159,818.6 165,816.8 Q171,818.6 176,815" stroke-width="1.2"/>
<path d="M149.3,814 V868 L150,1133 Q150,1135.8 153,1135.8 H178.2 Q181,1135.8 181,1133 L181.3,868 V814" stroke-width="1.7"/>
<path d="M149.3,814 V868 M181.5,814 V868" stroke-width="2.4"/>
<path d="M150.5,822.4 H181" stroke-width="1.5"/>
<path d="M150.5,1130.4 H180.5" stroke-width="1.5"/>
<path d="M153,1136 V1174.9 M178.5,1136 V1174.9" stroke-width="1.7"/>
<ellipse cx="183.6" cy="894.9" rx="1.8" ry="3.6" fill="#14140c" stroke="none"/><ellipse cx="183.6" cy="922" rx="1.8" ry="3.6" fill="#14140c" stroke="none"/>
<rect x="179.6" y="888.9" width="3.8" height="39.6" rx="1.9" fill="#FEFEE1" stroke-width="1.7"/>
</g>
<g fill="#14140c" transform="translate(0,-1.8)">
<ellipse cx="147.2" cy="831.3" rx="3" ry="6.2"/><circle cx="145.3" cy="845.8" r="5.2"/><ellipse cx="147.2" cy="860.3" rx="3" ry="6.5"/>
<ellipse cx="183.5" cy="831.3" rx="3.2" ry="6.2"/><ellipse cx="183.5" cy="845.8" rx="3.3" ry="6"/><ellipse cx="183.5" cy="860.3" rx="3.3" ry="6.3"/>
<circle cx="145.3" cy="845.5" r="1.2" fill="#8a8a80"/>
</g>
</g>
<use href="#br" transform="translate(-152.25,939.08) scale(0.677,0.594)"/>
<circle cx="165.4" cy="982.4" r="17.5" fill="#1692D9"/>
<path d="M163.9,972.5 L167.4,972.5 L167.4,992 L171.4,992 L171.4,995 L159.4,995 L159.4,992 L163.4,992 L163.4,976 L159.9,977.5 L159.9,975 Z" fill="#F2FCFF"/>
<g stroke="#4F93BC" stroke-width="1.3" fill="none">
<path d="M25.2,809.7 H145.2 M33.2,809.7 V1282 M25.2,1282 H82.2"/>
</g>
<text transform="translate(12.5,1020.5) rotate(90)" text-anchor="middle" font-size="21" fill="#3589BA" textLength="124" lengthAdjust="spacingAndGlyphs">730~1030mm</text>
<g transform="translate(333,0)">
<g fill="none" stroke="#14140c" stroke-linecap="round" stroke-linejoin="round">
<path d="M120,813.9 H211" stroke-width="3"/>
<path d="M137.8,814.5 Q143,818.3 148.5,816.8 Q152,818.3 154.6,814.5 Z M176.2,814.5 Q179,818.3 183.5,816.8 Q189,818.3 193.8,814.5 Z" stroke-width="0.8" fill="#14140c"/>
<path d="M154.6,815 Q159,818.6 165,816.8 Q171,818.6 176,815" stroke-width="1.2"/>
<path d="M149.3,814 V868 L150,1133 Q150,1135.8 153,1135.8 H178.2 Q181,1135.8 181,1133 L181.3,868 V814" stroke-width="1.7"/>
<path d="M149.3,814 V868 M181.5,814 V868" stroke-width="2.4"/>
<path d="M150.5,822.4 H181" stroke-width="1.5"/>
<path d="M150.5,1130.4 H180.5" stroke-width="1.5"/>
<path d="M153,1136 V1214.4 M178.5,1136 V1214.4" stroke-width="1.7"/>
<ellipse cx="183.6" cy="901.2" rx="1.8" ry="3.6" fill="#14140c" stroke="none"/><ellipse cx="183.6" cy="931.5" rx="1.8" ry="3.6" fill="#14140c" stroke="none"/>
<rect x="179.6" y="895.2" width="3.8" height="42.8" rx="1.9" fill="#FEFEE1" stroke-width="1.7"/>
</g>
<g fill="#14140c" transform="translate(0,0)">
<ellipse cx="147.2" cy="831.3" rx="3" ry="6.2"/><circle cx="145.3" cy="845.8" r="5.2"/><ellipse cx="147.2" cy="860.3" rx="3" ry="6.5"/>
<ellipse cx="183.5" cy="831.3" rx="3.2" ry="6.2"/><ellipse cx="183.5" cy="845.8" rx="3.3" ry="6"/><ellipse cx="183.5" cy="860.3" rx="3.3" ry="6.3"/>
<circle cx="145.3" cy="845.5" r="1.2" fill="#8a8a80"/>
</g>
</g>
<use href="#br" transform="translate(180.75,979.08) scale(0.677,0.594)"/>
<circle cx="496.3" cy="982.4" r="17.5" fill="#1692D9"/>
<text x="496.3" y="994.8" text-anchor="middle" font-size="31" fill="#F2FCFF" stroke="#F2FCFF" stroke-width="0.5">2</text>
<g stroke="#4F93BC" stroke-width="1.3" fill="none">
<path d="M357.1,809.7 H477.1 M365.1,809.7 V1322.6 M357.1,1322.6 H407.1"/>
</g>
<text transform="translate(341,1017.4) rotate(90)" text-anchor="middle" font-size="21" fill="#3589BA" textLength="125.5" lengthAdjust="spacingAndGlyphs">960~1500mm</text>
<g transform="translate(657,0)">
<g fill="none" stroke="#14140c" stroke-linecap="round" stroke-linejoin="round">
<path d="M120,813.9 H211" stroke-width="3"/>
<path d="M137.8,814.5 Q143,818.3 148.5,816.8 Q152,818.3 154.6,814.5 Z M176.2,814.5 Q179,818.3 183.5,816.8 Q189,818.3 193.8,814.5 Z" stroke-width="0.8" fill="#14140c"/>
<path d="M154.6,815 Q159,818.6 165,816.8 Q171,818.6 176,815" stroke-width="1.2"/>
<path d="M149.3,814 V868 L150,1133 Q150,1135.8 153,1135.8 H178.2 Q181,1135.8 181,1133 L181.3,868 V814" stroke-width="1.7"/>
<path d="M149.3,814 V868 M181.5,814 V868" stroke-width="2.4"/>
<path d="M150.5,822.4 H181" stroke-width="1.5"/>
<path d="M150.5,1130.4 H180.5" stroke-width="1.5"/>
<path d="M153,1136 V1254.4 M178.5,1136 V1254.4" stroke-width="1.7"/>
<ellipse cx="183.6" cy="901.4" rx="1.8" ry="3.6" fill="#14140c" stroke="none"/><ellipse cx="183.6" cy="931.3" rx="1.8" ry="3.6" fill="#14140c" stroke="none"/>
<rect x="179.6" y="895.4" width="3.8" height="42.4" rx="1.9" fill="#FEFEE1" stroke-width="1.7"/>
</g>
<g fill="#14140c" transform="translate(0,0)">
<ellipse cx="147.2" cy="831.3" rx="3" ry="6.2"/><circle cx="145.3" cy="845.8" r="5.2"/><ellipse cx="147.2" cy="860.3" rx="3" ry="6.5"/>
<ellipse cx="183.5" cy="831.3" rx="3.2" ry="6.2"/><ellipse cx="183.5" cy="845.8" rx="3.3" ry="6"/><ellipse cx="183.5" cy="860.3" rx="3.3" ry="6.3"/>
<circle cx="145.3" cy="845.5" r="1.2" fill="#8a8a80"/>
</g>
</g>
<use href="#br" transform="translate(504.75,1019.08) scale(0.677,0.594)"/>
<circle cx="824.3" cy="982.4" r="17.5" fill="#1692D9"/>
<text x="824.3" y="994.8" text-anchor="middle" font-size="31" fill="#F2FCFF" stroke="#F2FCFF" stroke-width="0.5">3</text>
<g stroke="#4F93BC" stroke-width="1.3" fill="none">
<path d="M682,809.7 H802 M690,809.7 V1362.6 M682,1362.6 H732"/>
</g>
<text transform="translate(666.8,1025.2) rotate(90)" text-anchor="middle" font-size="21" fill="#3589BA" textLength="135.5" lengthAdjust="spacingAndGlyphs">1560~2000mm</text>
<g transform="translate(991.5,0)">
<g fill="none" stroke="#14140c" stroke-linecap="round" stroke-linejoin="round">
<path d="M120,813.9 H211" stroke-width="3"/>
<path d="M137.8,814.5 Q143,818.3 148.5,816.8 Q152,818.3 154.6,814.5 Z M176.2,814.5 Q179,818.3 183.5,816.8 Q189,818.3 193.8,814.5 Z" stroke-width="0.8" fill="#14140c"/>
<path d="M154.6,815 Q159,818.6 165,816.8 Q171,818.6 176,815" stroke-width="1.2"/>
<path d="M149.3,814 V868 L150,1133 Q150,1135.8 153,1135.8 H178.2 Q181,1135.8 181,1133 L181.3,868 V814" stroke-width="1.7"/>
<path d="M149.3,814 V868 M181.5,814 V868" stroke-width="2.4"/>
<path d="M150.5,822.4 H181" stroke-width="1.5"/>
<path d="M150.5,1130.4 H180.5" stroke-width="1.5"/>
<path d="M153,1136 V1314.4 M178.5,1136 V1314.4" stroke-width="1.7"/>
<ellipse cx="183.6" cy="901.4" rx="1.8" ry="3.6" fill="#14140c" stroke="none"/><ellipse cx="183.6" cy="931.3" rx="1.8" ry="3.6" fill="#14140c" stroke="none"/>
<rect x="179.6" y="895.4" width="3.8" height="42.4" rx="1.9" fill="#FEFEE1" stroke-width="1.7"/>
</g>
<g fill="#14140c" transform="translate(0,0)">
<ellipse cx="147.2" cy="831.3" rx="3" ry="6.2"/><circle cx="145.3" cy="845.8" r="5.2"/><ellipse cx="147.2" cy="860.3" rx="3" ry="6.5"/>
<ellipse cx="183.5" cy="831.3" rx="3.2" ry="6.2"/><ellipse cx="183.5" cy="845.8" rx="3.3" ry="6"/><ellipse cx="183.5" cy="860.3" rx="3.3" ry="6.3"/>
<circle cx="145.3" cy="845.5" r="1.2" fill="#8a8a80"/>
</g>
</g>
<use href="#br" transform="translate(839.25,1079.08) scale(0.677,0.594)"/>
<circle cx="1156" cy="982.4" r="17.5" fill="#1692D9"/>
<text x="1156" y="994.8" text-anchor="middle" font-size="31" fill="#F2FCFF" stroke="#F2FCFF" stroke-width="0.5">4</text>
<g stroke="#4F93BC" stroke-width="1.3" fill="none">
<path d="M1017.2,809.7 H1137.2 M1025.2,809.7 V1424.7 M1017.2,1424.7 H1067.2"/>
</g>
<text transform="translate(1002,1023.5) rotate(90)" text-anchor="middle" font-size="21" fill="#3589BA" textLength="137" lengthAdjust="spacingAndGlyphs">2060~2500mm</text>
<g stroke="#8a8a7a" stroke-width="1.2" fill="none"><path d="M114.4,810 V1137 M108.4,1136.9 H149.3"/></g>
<text transform="translate(91,992.3) rotate(90)" text-anchor="middle" font-size="21" fill="#6A6A60">545mm</text>
</svg></body></html>
